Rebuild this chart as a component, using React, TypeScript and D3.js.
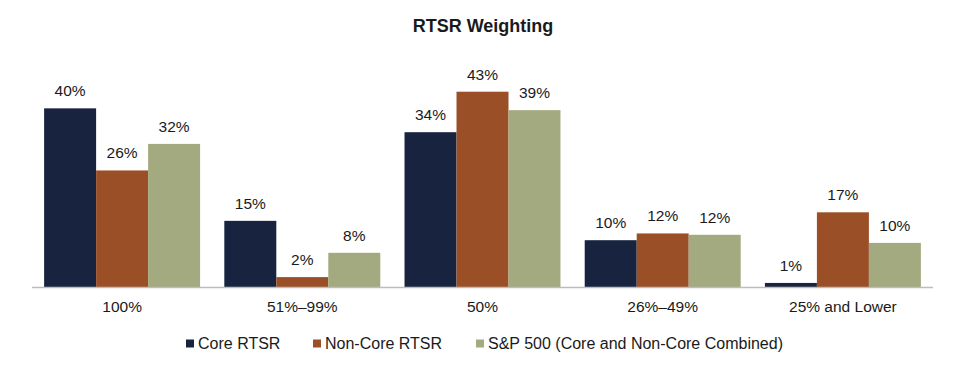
import React from "react";
import * as d3 from "d3";

const categories = ["100%", "51%–99%", "50%", "26%–49%", "25% and Lower"];
const seriesNames = ["Core RTSR", "Non-Core RTSR", "S&P 500 (Core and Non-Core Combined)"];
const coreRTSR = [39.7, 14.7, 34.4, 10.4, 0.9];
const nonCoreRTSR = [25.9, 2.2, 43.4, 11.9, 16.6];
const sp500 = [31.8, 7.6, 39.3, 11.6, 9.8];
const seriesValues = [coreRTSR, nonCoreRTSR, sp500];
const colors = ["#18243f", "#9b4f27", "#a4aa7f"];

const W = 974;
const H = 370;
const FONT = "'Liberation Sans', Arial, sans-serif";
const fmt = d3.format(".0f");

export default function App() {
  const left = 32;
  const right = 933;
  const baseY = 287;
  const x0 = d3.scaleBand<string>().domain(categories).range([left, right]).paddingInner(0).paddingOuter(0);
  const x1 = d3
    .scaleBand<number>()
    .domain([0, 1, 2])
    .range([0, x0.bandwidth()])
    .paddingInner(0)
    .paddingOuter(0.233);
  const y = d3.scaleLinear().domain([0, 45]).range([baseY, baseY - 45 * 4.5]);

  const legendX = [186, 313, 476];

  return (
    <svg
      width={W}
      height={H}
      style={{ position: "absolute", left: 0, top: 0, background: "#fff" }}
      fontFamily={FONT}
    >
      <text x={483} y={31.5} textAnchor="middle" fontSize={18} fontWeight="bold" fill="#1a1a1a">
        RTSR Weighting
      </text>
      {categories.map((c, ci) => (
        <g key={c} transform={`translate(${x0(c)},0)`}>
          {seriesValues.map((vals, si) => {
            const v = vals[ci];
            const bx = x1(si)!;
            const bw = x1.bandwidth();
            return (
              <g key={si}>
                <rect x={bx} y={y(v)} width={bw} height={baseY - y(v)} fill={colors[si]} />
                <text
                  x={bx + bw / 2}
                  y={y(v) - 12}
                  textAnchor="middle"
                  fontSize={15.5}
                  fill="#1a1a1a"
                >
                  {fmt(v)}%
                </text>
              </g>
            );
          })}
          <text x={x0.bandwidth() / 2} y={311.5} textAnchor="middle" fontSize={15.5} fill="#1a1a1a">
            {c}
          </text>
        </g>
      ))}
      <line x1={left} x2={right} y1={baseY + 0.5} y2={baseY + 0.5} stroke="#bcbcbc" strokeWidth={1.5} />
      {seriesNames.map((s, i) => (
        <g key={s}>
          <rect x={legendX[i]} y={339.5} width={8} height={8} fill={colors[i]} />
          <text x={legendX[i] + 12} y={349} fontSize={16} fill="#1a1a1a">
            {s}
          </text>
        </g>
      ))}
    </svg>
  );
}
